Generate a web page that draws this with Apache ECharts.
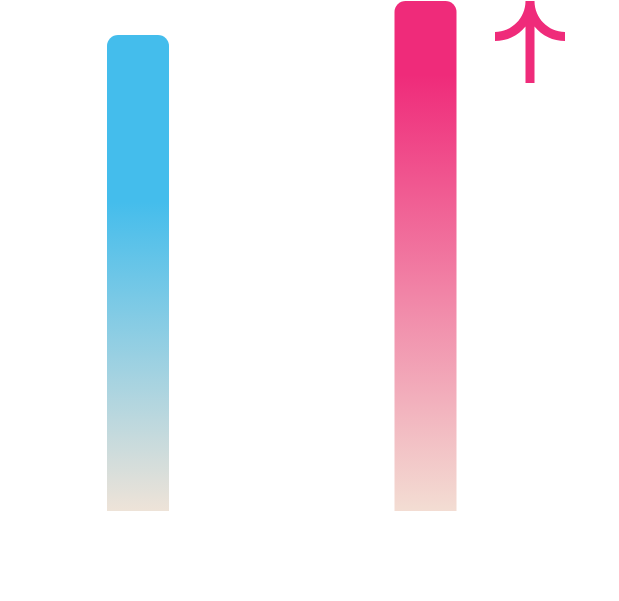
<!DOCTYPE html>
<html>
<head>
<meta charset="utf-8">
<script src="https://cdn.jsdelivr.net/npm/echarts@6/dist/echarts.min.js"></script>
<style>
  html, body { margin: 0; padding: 0; background: #fff; }
  #chart { width: 619px; height: 601px; }
</style>
</head>
<body>
<div id="chart"></div>
<script>
// 两根柱子的数据
const categories = ["A", "B"];
const values = [14, 15];
// 每根柱子的渐变: [顶部颜色, 纯色结束位置, 底部颜色]
const barColors = [
  ["#44BDEC", 0.35, "#EEE3D8"],
  ["#EF2B7A", 0.145, "#F3DDD3"],
];

// 上升箭头图标
const arrowPath =
  "path://M30.5 2 L39.5 2 C39.5 18.85 53.15 32.5 70 32.5 L70 41.5 " +
  "C58.19 41.5 47 36.2 39.5 27.1 L39.5 83 L30.5 83 L30.5 27.1 " +
  "C23 36.2 11.81 41.5 0 41.5 L0 32.5 C16.85 32.5 30.5 18.85 30.5 2 Z";

const chart = echarts.init(document.getElementById("chart"));

const option = {
  animation: false,
  grid: {
    left: 138,
    right: 193.5,
    top: 1,
    bottom: 90,
  },
  xAxis: {
    type: "category",
    data: categories,
    boundaryGap: false,
    axisLine: { show: false },
    axisTick: { show: false },
    axisLabel: { show: false },
  },
  yAxis: {
    type: "value",
    min: 0,
    max: 15,
    show: false,
    splitLine: { show: false },
  },
  series: [
    {
      type: "bar",
      barWidth: 62,
      clip: false,
      data: values.map((v, i) => {
        const c = barColors[i];
        return {
          value: v,
          itemStyle: {
            borderRadius: [11, 11, 0, 0],
            color: new echarts.graphic.LinearGradient(0, 0, 0, 1, [
              { offset: 0, color: c[0] },
              { offset: c[1], color: c[0] },
              { offset: 1, color: c[2] },
            ]),
          },
        };
      }),
      markPoint: {
        silent: true,
        symbol: arrowPath,
        symbolSize: [70, 82],
        symbolOffset: [104.5, 41],
        itemStyle: { color: "#EF2B7A" },
        label: { show: false },
        data: [{ coord: [categories[1], values[1]] }],
      },
    },
  ],
};

chart.setOption(option);
</script>
</body>
</html>
